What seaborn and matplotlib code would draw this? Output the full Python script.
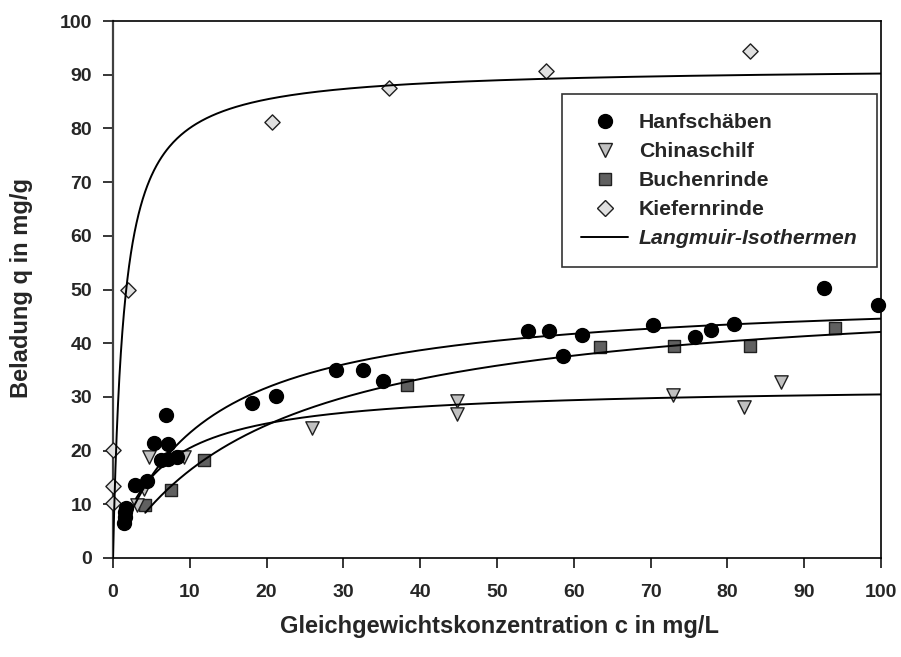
import numpy as np
import pandas as pd
import matplotlib
matplotlib.use("Agg")
import matplotlib.pyplot as plt
import seaborn as sns
from matplotlib.lines import Line2D

# ---- data ----
hanf_c = [1.4, 1.5, 1.6, 1.7, 2.9, 4.4, 5.3, 6.2, 6.9, 7.2, 7.2, 8.3, 18.1, 21.2,
          29.1, 32.5, 35.2, 54.0, 56.8, 58.6, 61.1, 70.3, 75.8, 77.8, 80.9, 92.6, 99.6]
hanf_q = [6.5, 7.7, 8.5, 9.3, 13.6, 14.4, 21.4, 18.2, 26.7, 21.2, 18.4, 18.9, 28.9, 30.2,
          35.0, 35.1, 33.0, 42.3, 42.3, 37.7, 41.6, 43.3, 41.2, 42.4, 43.6, 50.3, 47.2]
china_c = [3.1, 4.0, 4.7, 9.3, 25.9, 44.8, 44.8, 72.9, 82.2, 87.0]
china_q = [9.9, 12.8, 18.8, 18.8, 24.2, 29.3, 26.8, 30.4, 28.1, 32.7]
buchen_c = [4.2, 7.5, 11.8, 38.3, 63.4, 73.0, 82.9, 94.0]
buchen_q = [9.9, 12.7, 18.2, 32.2, 39.2, 39.4, 39.4, 42.9]
kiefer_c = [0.0, 0.0, 0.0, 2.0, 20.7, 36.0, 56.4, 82.9]
kiefer_q = [10.2, 13.5, 20.2, 49.9, 81.1, 87.6, 90.7, 94.5]

series_names = ["Hanfschäben", "Chinaschilf", "Buchenrinde", "Kiefernrinde"]
# Langmuir parameters (qmax in mg/g, K in L/mg) and curve start concentration
lang_qmax = [49.6, 32.2, 51.06, 91.5]
lang_K = [0.0886, 0.175, 0.047, 0.7]
lang_cstart = [1.4, 3.0, 4.2, 0.0]
line_label = "Langmuir-Isothermen"

xticks = list(range(0, 101, 10))
yticks = list(range(0, 101, 10))
xlabel = "Gleichgewichtskonzentration c in mg/L"
ylabel = "Beladung q in mg/g"

# ---- styling ----
sns.set_theme(style="ticks")
plt.rcParams["font.family"] = ["Liberation Sans", "DejaVu Sans"]
plt.rcParams["font.weight"] = "bold"

W, H = 901, 657
fig = plt.figure(figsize=(W / 100, H / 100), dpi=100)
ax = fig.add_axes([113 / W, 1 - 558 / H, 768 / W, 537 / H])

styles = {
    "Hanfschäben": dict(marker="o", color="black", edgecolor="black", s=100),
    "Chinaschilf": dict(marker="v", color="#c0c0c0", edgecolor="#202020", s=92),
    "Buchenrinde": dict(marker="s", color="#606060", edgecolor="#202020", s=64),
    "Kiefernrinde": dict(marker="D", color="#e0e0e0", edgecolor="#202020", s=60),
}
data = {
    "Hanfschäben": (hanf_c, hanf_q),
    "Chinaschilf": (china_c, china_q),
    "Buchenrinde": (buchen_c, buchen_q),
    "Kiefernrinde": (kiefer_c, kiefer_q),
}

for name in ["Kiefernrinde", "Buchenrinde", "Chinaschilf", "Hanfschäben"]:
    c, q = data[name]
    df = pd.DataFrame({"c": c, "q": q})
    st = styles[name]
    sns.scatterplot(data=df, x="c", y="q", ax=ax, marker=st["marker"], color=st["color"],
                    edgecolor=st["edgecolor"], linewidth=1.0, s=st["s"], clip_on=False,
                    zorder=3, legend=False)

for qm, K, c0 in zip(lang_qmax, lang_K, lang_cstart):
    cc = np.unique(np.concatenate([np.linspace(c0, 5, 300), np.linspace(c0, 100, 600)]))
    dfl = pd.DataFrame({"c": cc, "q": qm * K * cc / (1 + K * cc)})
    sns.lineplot(data=dfl, x="c", y="q", ax=ax, color="black", linewidth=1.4,
                 zorder=4, sort=True, estimator=None)

ax.set_xlim(0, 100)
ax.set_ylim(0, 100)
ax.set_xticks(xticks)
ax.set_yticks(yticks)
ax.tick_params(axis="both", direction="out", length=7, width=1.1, labelsize=14,
               color="black")
ax.tick_params(axis="x", pad=12)
ax.tick_params(axis="y", pad=8)
for lab in ax.get_xticklabels() + ax.get_yticklabels():
    lab.set_fontweight("bold")
for sp in ax.spines.values():
    sp.set_visible(True)
    sp.set_color("black")
    sp.set_linewidth(1.2)
ax.spines["left"].set_color("#404040")
ax.spines["left"].set_linewidth(1.6)
ax.set_xlabel("")
ax.set_ylabel("")
fig.text(500 / W, 1 - 627 / H, xlabel, ha="center", va="center", fontsize=17,
         fontweight="bold")
fig.text(22 / W, 1 - 288 / H, ylabel, ha="center", va="center", fontsize=17,
         fontweight="bold", rotation=90)

handles = []
for name in series_names:
    st = styles[name]
    handles.append(Line2D([], [], linestyle="none", marker=st["marker"],
                          markerfacecolor=st["color"], markeredgecolor=st["edgecolor"],
                          markersize=np.sqrt(st["s"]), label=name))
handles.append(Line2D([], [], color="black", linewidth=1.4, label=line_label))
leg = ax.legend(handles=handles, loc="upper left", bbox_to_anchor=(0.585, 0.864),
                frameon=True, fancybox=False, edgecolor="black", fontsize=15.3,
                handlelength=2.2, handletextpad=0.5, labelspacing=0.47,
                borderpad=0.9, borderaxespad=0)
leg.get_frame().set_linewidth(1.2)
for i, t in enumerate(leg.get_texts()):
    t.set_fontweight("bold")
    if i == 4:
        t.set_fontstyle("italic")

fig.savefig("out.png", dpi=100)
